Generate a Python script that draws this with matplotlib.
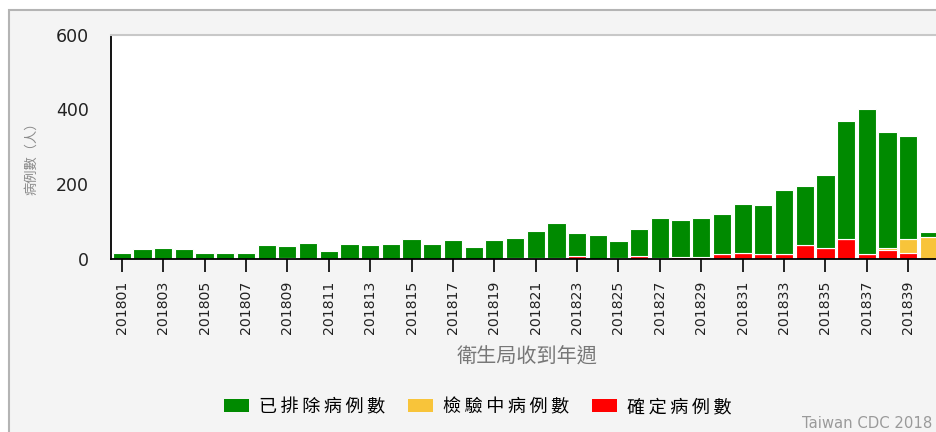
import numpy as np
import matplotlib
matplotlib.use('Agg')
import matplotlib.pyplot as plt
from matplotlib.patches import Rectangle, Patch

cjk = ['Noto Sans CJK TC', 'DejaVu Sans']

# week labels 201801..201840
weeks = [str(201800 + w) for w in range(1, 41)]

confirmed = [0, 0, 0, 0, 0, 0, 0, 0, 2, 0,
             0, 0, 0, 0, 0, 0, 0, 0, 0, 2,
             2, 1, 8, 0, 2, 7, 2, 3, 3, 12,
             15, 12, 12, 37, 29, 53, 12, 22, 14, 0]
pending = [0] * 37 + [7, 37, 57]
excluded = [14, 25, 29, 25, 15, 15, 15, 35, 31, 42,
            19, 39, 35, 39, 52, 38, 49, 32, 49, 54,
            71, 95, 61, 62, 44, 72, 107, 100, 106, 108,
            132, 131, 171, 157, 195, 316, 388, 310, 278, 13]

labels = ['已排除病例數', '檢驗中病例數', '確定病例數']
colors = ['#008a00', '#f8c43a', '#ff0000']

x = np.arange(len(weeks))
confirmed = np.array(confirmed)
pending = np.array(pending)
excluded = np.array(excluded)

fig = plt.figure(figsize=(9.37, 4.32), dpi=100, facecolor='white')
# outer frame, behind everything
fig.patches.append(Rectangle((9 / 937, -0.1), 1.2, 1.1 - 10 / 432,
                             transform=fig.transFigure, facecolor='#f4f4f4',
                             edgecolor='#b4b4b4', linewidth=1.5, zorder=-5))

ax = fig.add_axes([111 / 937, 1 - 258.5 / 432, 849 / 937, 224 / 432])
ax.set_facecolor('white')

w = 0.88
ax.bar(x, confirmed, w, color=colors[2], edgecolor='white', linewidth=0.8)
ax.bar(x, pending, w, bottom=confirmed, color=colors[1], edgecolor='white', linewidth=0.8)
ax.bar(x, excluded, w, bottom=confirmed + pending, color=colors[0],
       edgecolor='white', linewidth=0.8)

ax.set_xlim(-0.52, 40.5)
ax.set_ylim(0, 600)
ax.set_yticks([0, 200, 400, 600])
ax.tick_params(axis='y', length=0, pad=16, labelsize=12.5, colors='#222222')
ax.set_xticks(x[::2])
ax.set_xticklabels(weeks[::2], rotation=90, fontsize=10.2, color='#222222')
ax.tick_params(axis='x', length=9, width=1.2, pad=7, color='black')

for s in ['left', 'bottom']:
    ax.spines[s].set_color('black')
    ax.spines[s].set_linewidth(1.3)
ax.spines['top'].set_color('#c8c8c8')
ax.spines['top'].set_linewidth(1.5)
ax.spines['right'].set_visible(False)

fig.text(32 / 937, 1 - 155 / 432, '病例數（人）', rotation=90, ha='center', va='center',
         fontsize=9.5, color='#8a8a8a', family=cjk)
fig.text(527 / 937, 1 - 357 / 432, '衛生局收到年週', ha='center', va='center',
         fontsize=14.5, color='#777777', family=cjk)

# legend text is letter-spaced in the original
spaced = ['\u2009'.join(t) for t in labels]
handles = [Patch(facecolor=colors[i], edgecolor='none') for i in range(3)]
fig.legend(handles, spaced, loc='center', bbox_to_anchor=(478 / 937, 1 - 407 / 432),
           ncol=3, frameon=False, prop={'family': cjk, 'size': 13},
           handlelength=1.38, handleheight=0.7, handletextpad=0.57, columnspacing=1.26)

fig.text(802 / 937, 1 - 424 / 432, 'Taiwan CDC 2018', ha='left', va='center',
         fontsize=10.7, color='#9a9a9a')

fig.savefig('out.png', dpi=100, facecolor=fig.get_facecolor())
